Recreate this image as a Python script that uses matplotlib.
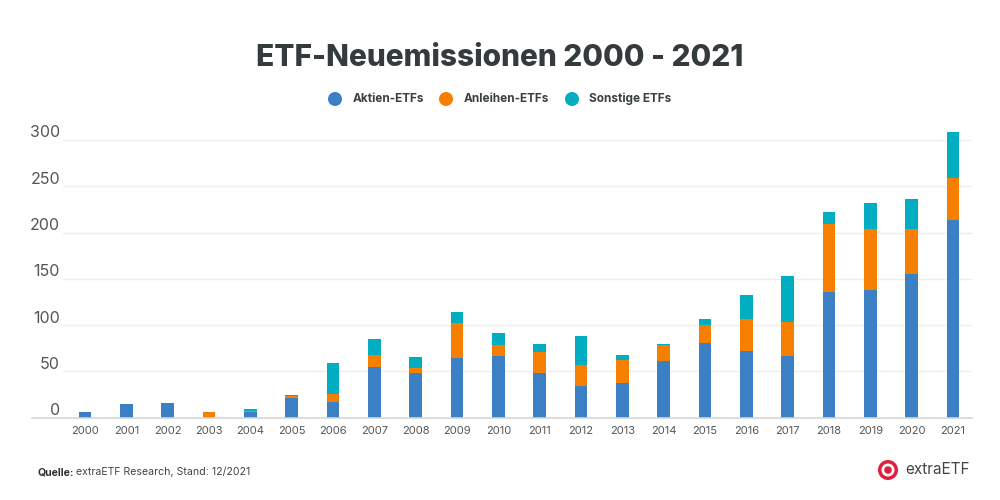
import matplotlib
matplotlib.use("Agg")
import matplotlib.pyplot as plt
from matplotlib.lines import Line2D
from matplotlib.patches import Ellipse
import numpy as np

years = [str(y) for y in range(2000, 2022)]
aktien = [6, 15, 16, 0, 6, 21, 17, 55, 48, 65, 67, 48, 34, 37, 61, 81, 72, 67, 136, 138, 155, 214]
anleihen = [0, 0, 0, 6, 1, 2, 9, 13, 6, 37, 12, 23, 23, 25, 18, 19, 35, 36, 73, 66, 49, 45]
sonstige = [0, 0, 0, 0, 2, 1, 33, 17, 12, 12, 12, 9, 31, 6, 1, 7, 26, 50, 13, 28, 32, 50]
series_names = ["Aktien-ETFs", "Anleihen-ETFs", "Sonstige ETFs"]
colors = ["#3b7fc4", "#f77f00", "#00adc1"]
yticks = [0, 50, 100, 150, 200, 250, 300]

FONT = ["Inter", "DejaVu Sans"]
plt.rcParams["font.family"] = FONT

W, H = 1000, 500
fig = plt.figure(figsize=(10, 5), dpi=100)
fig.patch.set_facecolor("white")


def circ(cx, cy, r, col):
    fig.add_artist(Ellipse((cx / W, 1 - cy / H), 2 * r / W, 2 * r / H,
                           transform=fig.transFigure, color=col, lw=0))


# axes geometry in pixels
x_left, x_right = 63, 972
y_zero, px_per_unit = 417.7, 0.9257
ytop = 320
ax = fig.add_axes([x_left / W, 1 - y_zero / H, (x_right - x_left) / W, ytop * px_per_unit / H])

x = np.arange(len(years))
bw = 0.3
a = np.array(aktien); b = np.array(anleihen); c = np.array(sonstige)
ax.bar(x, a, bw, color=colors[0], zorder=3)
ax.bar(x, b, bw, bottom=a, color=colors[1], zorder=3)
ax.bar(x, c, bw, bottom=a + b, color=colors[2], zorder=3)

ax.set_xlim(-(85 - x_left) / 41.33, 21 + (x_right - 953) / 41.33)
ax.set_ylim(0, ytop)
for s in ax.spines.values():
    s.set_visible(False)
for v in yticks[1:]:
    ax.axhline(v, color="#eeeeee", lw=1, zorder=1)
ax.set_yticks([])
ax.set_xticks(x)
ax.set_xticklabels(years, fontsize=8, color="#555555")
ax.tick_params(axis="x", length=0, pad=6)

# y labels above gridlines, right-aligned at x=60px
for v in yticks:
    ypix = y_zero - v * px_per_unit - 7
    fig.text(60 / W, 1 - ypix / H, str(v), ha="right", va="center",
             fontsize=11.5, color="#555555")

# baseline
fig.add_artist(Line2D([32 / W, 972 / W], [1 - y_zero / H] * 2, color="#d5d5d5", lw=1.2))

# title
fig.text(0.5, 1 - 58 / H, "ETF-Neuemissionen 2000 - 2021", ha="center", va="center",
         fontsize=21.5, fontweight="heavy", color="#333b3d")

# legend
leg_items = [(335, 353), (446, 464), (572, 589)]
for (cx, tx), name, col in zip(leg_items, series_names, colors):
    circ(cx, 99, 7, col)
    fig.text(tx / W, 1 - 99 / H, name, ha="left", va="center", fontsize=8.5,
             fontweight="bold", color="#3a3f42")

# footer
t = fig.text(37 / W, 1 - 472 / H, "Quelle:", ha="left", va="center", fontsize=7.6,
             fontweight="bold", color="#333333")
fig.canvas.draw()
bb = t.get_window_extent()
fig.text((bb.x1 + 3) / W, 1 - 472 / H, "extraETF Research, Stand: 12/2021", ha="left",
         va="center", fontsize=7.6, color="#444444")

# logo
lx, ly = 888, 470
circ(lx, ly, 10, "#e0203c")
circ(lx, ly, 6.5, "white")
circ(lx, ly, 3.8, "#e0203c")
fig.text(905 / W, 1 - 470 / H, "extraETF", ha="left", va="center", fontsize=11,
         color="#444444")

fig.savefig("out.png", dpi=100, facecolor="white")
